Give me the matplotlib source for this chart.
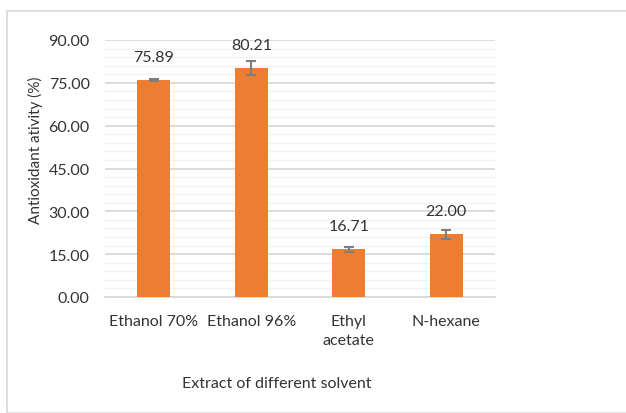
import matplotlib
matplotlib.use("Agg")
import matplotlib.pyplot as plt
from matplotlib.ticker import MultipleLocator, FormatStrFormatter
from matplotlib.patches import Rectangle

categories = ["Ethanol 70%", "Ethanol 96%", "Ethyl\nacetate", "N-hexane"]
values = [75.89, 80.21, 16.71, 22.00]
errors = [0.3, 2.4, 0.8, 1.6]
labels = ["75.89", "80.21", "16.71", "22.00"]

plt.rcParams['font.family'] = ['Lato', 'DejaVu Sans']
txt = '#333333'

fig = plt.figure(figsize=(6.26, 4.14), dpi=100)
fig.patches.append(Rectangle((7/626, 0), 1, 1 - 12/414, transform=fig.transFigure,
                             fill=False, edgecolor='#D9D9D9', linewidth=1.2))
ax = fig.add_axes([105/626, 1 - 298/414, 390/626, 257/414])

x = list(range(len(categories)))
ax.bar(x, values, width=0.335, color='#ED7D31', zorder=3)
ax.errorbar(x, values, yerr=errors, fmt='none', ecolor='#7F7F7F', elinewidth=1.5,
            capsize=3.6, capthick=1.5, zorder=4)
for xi, v, lab in zip(x, values, labels):
    ax.annotate(lab, (xi, v), xytext=(0, 16.5), textcoords='offset points',
                ha='center', va='center', fontsize=11.5, color=txt)

ax.set_xlim(-0.5, 3.5)
ax.set_ylim(0, 90)
ax.yaxis.set_major_locator(MultipleLocator(15))
ax.yaxis.set_minor_locator(MultipleLocator(3))
ax.yaxis.set_major_formatter(FormatStrFormatter('%.2f'))
ax.grid(axis='y', which='major', color='#D9D9D9', linewidth=1.3, zorder=0)
ax.grid(axis='y', which='minor', color='#F2F2F2', linewidth=1.0, zorder=0)
ax.set_axisbelow(True)
for s in ['top', 'right', 'left']:
    ax.spines[s].set_visible(False)
ax.spines['bottom'].set_color('#D9D9D9')
ax.spines['bottom'].set_linewidth(1.3)
ax.tick_params(axis='both', which='both', length=0, labelsize=11.5, labelcolor=txt)
ax.tick_params(axis='y', pad=11)
ax.tick_params(axis='x', pad=12)
ax.set_xticks(x)
ax.set_xticklabels(categories, linespacing=1.45)

fig.text(35/626, 1 - 150/414, "Antioxidant ativity (%)", rotation=90, ha='center',
         va='center', fontsize=11, color=txt)
fig.text(277/626, 1 - 384/414, "Extract of different solvent", ha='center', va='center',
         fontsize=11.5, color=txt)

fig.savefig("out.png", dpi=100)
